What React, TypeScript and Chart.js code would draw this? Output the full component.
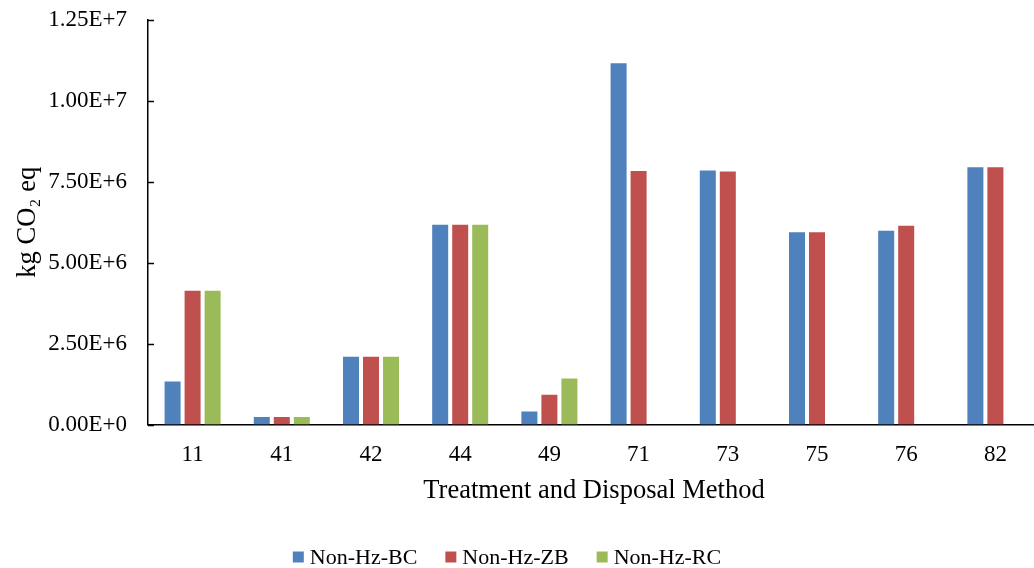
import React, { useEffect, useRef } from "react";
import { Chart, registerables } from "chart.js";

Chart.register(...registerables);

const categories = ["11", "41", "42", "44", "49", "71", "73", "75", "76", "82"];
const seriesNames = ["Non-Hz-BC", "Non-Hz-ZB", "Non-Hz-RC"];
const nonHzBC = [1.33e6, 0.23e6, 2.09e6, 6.17e6, 0.4e6, 11.16e6, 7.85e6, 5.94e6, 5.99e6, 7.95e6];
const nonHzZB = [4.13e6, 0.23e6, 2.09e6, 6.17e6, 0.92e6, 7.83e6, 7.82e6, 5.94e6, 6.14e6, 7.95e6];
const nonHzRC = [4.13e6, 0.23e6, 2.09e6, 6.17e6, 1.42e6, null, null, null, null, null];
const seriesColors = ["#4F81BD", "#C0504D", "#9BBB59"];
const yTitle = "kg CO\u2082 eq";
const xTitle = "Treatment and Disposal Method";

const FONT = '"Liberation Serif", "Times New Roman", serif';

const overlay = {
  id: "overlay",
  afterDraw(chart: any) {
    const ctx = chart.ctx;
    const area = chart.chartArea;
    const y = chart.scales.y;
    ctx.save();
    // inward tick marks on the value axis
    ctx.strokeStyle = "#000";
    ctx.lineWidth = 1.5;
    y.ticks.forEach((t: any) => {
      const py = Math.round(y.getPixelForValue(t.value)) + 0.5;
      ctx.beginPath();
      ctx.moveTo(area.left, py);
      ctx.lineTo(area.left + 6, py);
      ctx.stroke();
    });
    ctx.fillStyle = "#000";
    // y title
    ctx.save();
    ctx.translate(28, (area.top + area.bottom) / 2);
    ctx.rotate(-Math.PI / 2);
    ctx.font = `26.5px ${FONT}`;
    ctx.textAlign = "center";
    ctx.textBaseline = "middle";
    ctx.fillText(yTitle, 0, 0);
    ctx.restore();
    // x title
    ctx.font = `26.5px ${FONT}`;
    ctx.textAlign = "center";
    ctx.textBaseline = "middle";
    ctx.fillText(xTitle, (area.left + area.right) / 2, 491);
    // legend
    ctx.font = `22px ${FONT}`;
    const box = 11;
    const gap = 6;
    const spacing = 28;
    const widths = seriesNames.map((n) => ctx.measureText(n).width);
    const total = widths.reduce((s, w) => s + box + gap + w, 0) + spacing * (seriesNames.length - 1);
    let x = 507 - total / 2;
    const ly = 557;
    ctx.textAlign = "left";
    seriesNames.forEach((n, i) => {
      ctx.fillStyle = seriesColors[i];
      ctx.fillRect(x, ly - box / 2, box, box);
      ctx.fillStyle = "#000";
      ctx.fillText(n, x + box + gap, ly + 1);
      x += box + gap + widths[i] + spacing;
    });
    ctx.restore();
  },
};

export default function App() {
  const ref = useRef<HTMLCanvasElement | null>(null);
  useEffect(() => {
    document.body.style.margin = "0";
    const chart = new Chart(ref.current as HTMLCanvasElement, {
      type: "bar",
      data: {
        labels: categories,
        datasets: [
          { label: seriesNames[0], data: nonHzBC, backgroundColor: seriesColors[0] },
          { label: seriesNames[1], data: nonHzZB, backgroundColor: seriesColors[1] },
          { label: seriesNames[2], data: nonHzRC as any, backgroundColor: seriesColors[2] },
        ],
      },
      options: {
        animation: false,
        responsive: true,
        maintainAspectRatio: false,
        layout: { padding: { left: 0, top: 20, right: 10, bottom: 0 } },
        datasets: { bar: { categoryPercentage: 0.673, barPercentage: 0.8 } } as any,
        plugins: { legend: { display: false }, tooltip: { enabled: false } },
        scales: {
          x: {
            grid: { display: false, drawTicks: false },
            border: { color: "#000", width: 1.5 },
            ticks: { color: "#000", font: { family: FONT, size: 23 }, padding: 17 },
            afterFit: (s: any) => {
              s.height = 143.5;
              s.paddingLeft = 0;
              s.paddingRight = 0;
            },
          },
          y: {
            min: 0,
            max: 12.5e6,
            grid: { display: false, drawTicks: false },
            border: { color: "#000", width: 1.5 },
            ticks: {
              stepSize: 2.5e6,
              color: "#000",
              font: { family: FONT, size: 23 },
              padding: 21,
              callback: (v: any) => Number(v).toExponential(2).toUpperCase(),
            },
            afterFit: (s: any) => {
              s.width = 148;
              s.paddingTop = 0;
              s.paddingBottom = 0;
            },
          },
        },
      },
      plugins: [overlay],
    });
    return () => chart.destroy();
  }, []);
  return (
    <div style={{ width: 1034, height: 568, overflow: "hidden", position: "relative", background: "#fff" }}>
      <div style={{ width: 1050, height: 568, position: "relative" }}>
        <canvas ref={ref} />
      </div>
    </div>
  );
}
